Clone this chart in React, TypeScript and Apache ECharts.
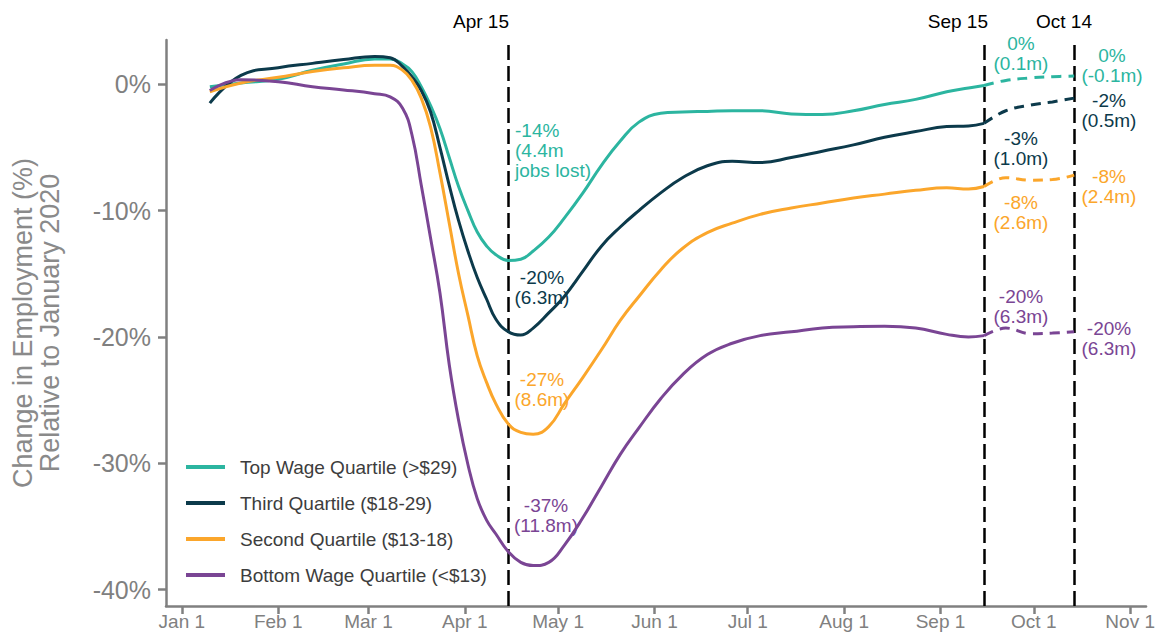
import { useEffect, useRef } from 'react';
import * as echarts from 'echarts';

const FONT = '"Liberation Sans", Arial, sans-serif';
const DAY = 86400000;

// Solid segment dates (through Sep 15)
const dates = ['2020-01-10', '2020-01-20', '2020-02-01', '2020-02-12', '2020-02-22', '2020-03-03', '2020-03-08', '2020-03-12', '2020-03-15', '2020-03-18', '2020-03-21', '2020-03-24', '2020-03-27', '2020-03-30', '2020-04-02', '2020-04-05', '2020-04-08', '2020-04-11', '2020-04-15', '2020-04-19', '2020-04-23', '2020-04-28', '2020-05-03', '2020-05-09', '2020-05-15', '2020-05-21', '2020-05-27', '2020-06-03', '2020-06-10', '2020-06-18', '2020-06-26', '2020-07-05', '2020-07-15', '2020-07-25', '2020-08-04', '2020-08-14', '2020-08-24', '2020-09-03', '2020-09-10', '2020-09-15'];

const topWage = [-0.2, 0.1, 0.4, 1.1, 1.6, 2.0, 2.0, 1.6, 1.0, -0.2, -1.7, -3.5, -5.8, -8.1, -10.0, -11.7, -12.8, -13.5, -13.95, -13.85, -13.2, -12.1, -10.6, -8.6, -6.4, -4.5, -3.0, -2.3, -2.2, -2.15, -2.1, -2.1, -2.35, -2.4, -2.1, -1.6, -1.2, -0.6, -0.3, -0.1];
const thirdQ = [-1.5, 0.7, 1.3, 1.65, 1.95, 2.2, 2.1, 1.4, 0.6, -0.5, -2.2, -5.0, -8.0, -10.8, -13.2, -15.3, -17.0, -18.6, -19.6, -19.85, -19.3, -18.1, -16.8, -14.8, -12.8, -11.3, -10.0, -8.6, -7.4, -6.45, -6.1, -6.2, -5.8, -5.3, -4.8, -4.2, -3.75, -3.35, -3.3, -3.1];
const secondQ = [-0.6, 0.1, 0.55, 1.0, 1.3, 1.5, 1.5, 1.1, 0.3, -1.1, -3.4, -7.0, -11.0, -15.0, -18.3, -21.5, -23.6, -25.3, -26.9, -27.55, -27.7, -27.1, -25.3, -23.2, -21.0, -18.7, -16.8, -14.7, -13.0, -11.75, -11.0, -10.3, -9.8, -9.4, -9.0, -8.7, -8.4, -8.2, -8.3, -8.1];
const bottomWage = [-0.5, 0.35, 0.2, -0.2, -0.45, -0.75, -1.0, -1.9, -4.0, -8.0, -12.2, -16.5, -22.2, -26.6, -30.1, -32.8, -34.5, -35.6, -37.0, -37.85, -38.1, -37.85, -36.5, -34.3, -31.8, -29.3, -27.2, -24.9, -23.0, -21.4, -20.5, -19.9, -19.6, -19.3, -19.2, -19.15, -19.3, -19.8, -20.0, -19.9];

// Dashed segment (Sep 15 – Oct 14)
const datesD = ['2020-09-15', '2020-09-22', '2020-09-30', '2020-10-07', '2020-10-14'];
const topWageD = [-0.1, 0.3, 0.5, 0.6, 0.65];
const thirdQD = [-3.1, -2.1, -1.65, -1.4, -1.1];
const secondQD = [-8.1, -7.4, -7.6, -7.55, -7.2];
const bottomWageD = [-19.9, -19.3, -19.75, -19.7, -19.6];

const seriesNames = ['Top Wage Quartile (>$29)', 'Third Quartile ($18-29)', 'Second Quartile ($13-18)', 'Bottom Wage Quartile (<$13)'];
const seriesColors = ['#2cb5a0', '#0c3a4b', '#fba62b', '#7a4594'];

const xTickDates = ['2020-01-01', '2020-02-01', '2020-03-01', '2020-04-01', '2020-05-01', '2020-06-01', '2020-07-01', '2020-08-01', '2020-09-01', '2020-10-01', '2020-11-01'];
const xTickLabels = ['Jan 1', 'Feb 1', 'Mar 1', 'Apr 1', 'May 1', 'Jun 1', 'Jul 1', 'Aug 1', 'Sep 1', 'Oct 1', 'Nov 1'];
const yTicks = [-40, -30, -20, -10, 0];

const refLineDates = ['2020-04-15', '2020-09-15', '2020-10-14'];
const refLineLabels = ['Apr 15', 'Sep 15', 'Oct 14'];

const toTs = (s: string) => {
  const [y, m, d] = s.split('-').map(Number);
  return Date.UTC(y, m - 1, d);
};

export default function App() {
  const ref = useRef<HTMLDivElement>(null);
  useEffect(() => {
    const chart = echarts.init(ref.current!, null, { renderer: 'svg' });
    const xTickTs = xTickDates.map(toTs);
    const solid = [topWage, thirdQ, secondQ, bottomWage];
    const dashed = [topWageD, thirdQD, secondQD, bottomWageD];

    const series: any[] = [];
    solid.forEach((vals, i) => {
      series.push({
        name: seriesNames[i],
        type: 'line',
        color: seriesColors[i],
        symbol: 'none',
        smooth: 0.45,
        lineStyle: { width: 3, color: seriesColors[i] },
        data: dates.map((d, j) => [toTs(d), vals[j]]),
        z: 3,
        markLine: i === 0 ? {
          silent: true,
          symbol: 'none',
          label: { show: false },
          lineStyle: { color: '#000', width: 2.5, type: [15, 6] },
          data: refLineDates.map((d) => ({ xAxis: toTs(d) })),
          z: 2,
        } : undefined,
      });
    });
    dashed.forEach((vals, i) => {
      series.push({
        name: seriesNames[i] + ' (dashed)',
        type: 'line',
        color: seriesColors[i],
        symbol: 'none',
        smooth: 0.4,
        lineStyle: { width: 3, color: seriesColors[i], type: [10, 7] },
        data: datesD.map((d, j) => [toTs(d), vals[j]]),
        z: 3,
      });
    });

    const txt = (text: string, x: number, y: number, color: string, align: string, size = 19, lh = 20, vAlign = 'top') => ({
      type: 'text',
      x, y,
      silent: true,
      style: {
        text, fill: color, fontSize: size, fontFamily: FONT, lineHeight: lh,
        align, textAlign: align, verticalAlign: vAlign, textVerticalAlign: vAlign,
      },
    });

    const c = seriesColors;
    const graphic: any[] = [
      {
        type: 'text', x: 36, y: 323, rotation: Math.PI / 2, silent: true,
        style: {
          text: 'Change in Employment (%)\nRelative to January 2020',
          fill: '#8a8a8a', fontSize: 27, fontFamily: FONT, lineHeight: 27,
          align: 'center', textAlign: 'center', verticalAlign: 'middle', textVerticalAlign: 'middle',
        },
      },
      txt(refLineLabels[0], 509, 21, '#000', 'right', 19, 20, 'middle'),
      txt(refLineLabels[1], 988, 21, '#000', 'right', 19, 20, 'middle'),
      txt(refLineLabels[2], 1064, 21, '#000', 'center', 19, 20, 'middle'),
      txt('-14%\n(4.4m\njobs lost)', 515, 120, c[0], 'left'),
      txt('-20%\n(6.3m)', 542, 267, c[1], 'center'),
      txt('-27%\n(8.6m)', 542, 369, c[2], 'center'),
      txt('-37%\n(11.8m)', 546, 495, c[3], 'center'),
      txt('0%\n(0.1m)', 1021, 33, c[0], 'center'),
      txt('0%\n(-0.1m)', 1112, 45, c[0], 'center'),
      txt('-2%\n(0.5m)', 1109, 90, c[1], 'center'),
      txt('-3%\n(1.0m)', 1021, 128, c[1], 'center'),
      txt('-8%\n(2.4m)', 1109, 166, c[2], 'center'),
      txt('-8%\n(2.6m)', 1021, 192, c[2], 'center'),
      txt('-20%\n(6.3m)', 1021, 286, c[3], 'center'),
      txt('-20%\n(6.3m)', 1109, 318, c[3], 'center'),
    ];

    const axisGray = '#808080';
    chart.setOption({
      animation: false,
      backgroundColor: '#fff',
      grid: { left: 166, right: 10, top: 40, bottom: 32, containLabel: false },
      xAxis: {
        type: 'value',
        min: toTs('2020-01-01') - 5.1 * DAY,
        max: toTs('2020-11-01') + 5.1 * DAY,
        axisLine: { show: true, onZero: false, lineStyle: { color: axisGray, width: 2.5 } },
        axisTick: { show: true, length: 8, lineStyle: { color: axisGray, width: 2.5 }, customValues: xTickTs },
        axisLabel: {
          customValues: xTickTs,
          formatter: (v: number) => {
            const idx = xTickTs.findIndex((t) => Math.abs(t - v) < DAY);
            return idx >= 0 ? xTickLabels[idx] : '';
          },
          color: axisGray, fontSize: 19, fontFamily: FONT, margin: 6,
        },
        splitLine: { show: false },
      },
      yAxis: {
        type: 'value',
        min: -41.3,
        max: 3.5,
        axisLine: { show: true, onZero: false, lineStyle: { color: axisGray, width: 2.5 } },
        axisTick: { show: true, length: 8, lineStyle: { color: axisGray, width: 2.5 }, customValues: yTicks },
        axisLabel: {
          customValues: yTicks,
          formatter: (v: number) => `${v}%`,
          color: axisGray, fontSize: 25, fontFamily: FONT, margin: 15,
        },
        splitLine: { show: false },
      },
      legend: {
        data: seriesNames,
        orient: 'vertical',
        left: 186,
        top: 457,
        padding: 0,
        itemWidth: 39,
        itemHeight: 4,
        itemGap: 16,
        icon: 'rect',
        selectedMode: false,
        textStyle: { fontSize: 19, color: '#3d3d3d', fontFamily: FONT, lineHeight: 20, padding: [0, 0, 0, 10] },
      },
      graphic,
      series,
    });
    return () => chart.dispose();
  }, []);
  return <div ref={ref} style={{ position: 'absolute', left: 0, top: 0, width: 1158, height: 638 }} />;
}
